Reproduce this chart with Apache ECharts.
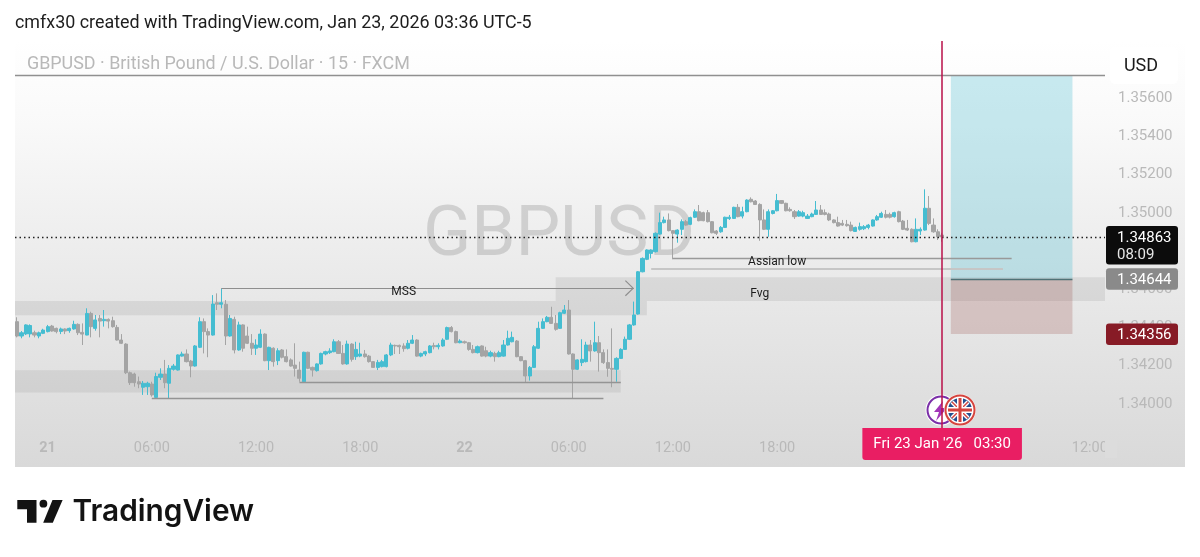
<!DOCTYPE html>
<html>
<head>
<meta charset="utf-8">
<style>html,body{margin:0;padding:0;background:#fff}#c{width:1200px;height:557px}</style>
<script src="https://cdn.jsdelivr.net/npm/echarts@6/dist/echarts.min.js"></script>
</head>
<body>
<div id="c"></div>
<script>
const opens = [
1.34420,1.34345,1.34356,1.34356,1.34362,1.34345,1.34359,1.34368,1.34397,1.34385,
1.34369,1.34382,1.34373,1.34382,1.34406,1.34364,1.34350,1.34463,1.34385,1.34437,
1.34425,1.34432,1.34425,1.34390,1.34324,1.34303,1.34153,1.34146,1.34106,1.34077,
1.34080,1.34094,1.34024,1.34129,1.34146,1.34098,1.34171,1.34167,1.34240,1.34251,
1.34214,1.34188,1.34286,1.34420,1.34368,1.34350,1.34519,1.34511,1.34511,1.34345,
1.34432,1.34272,1.34403,1.34345,1.34307,1.34281,1.34286,1.34355,1.34216,1.34281,
1.34216,1.34272,1.34237,1.34220,1.34193,1.34167,1.34106,1.34260,1.34181,1.34164,
1.34199,1.34251,1.34258,1.34263,1.34315,1.34254,1.34199,1.34303,1.34237,1.34240,
1.34251,1.34240,1.34211,1.34181,1.34185,1.34185,1.34246,1.34296,1.34296,1.34293,
1.34281,1.34307,1.34324,1.34240,1.34251,1.34258,1.34295,1.34289,1.34293,1.34328,
1.34389,1.34368,1.34310,1.34315,1.34310,1.34275,1.34258,1.34293,1.34268,1.34240,
1.34254,1.34237,1.34240,1.34298,1.34315,1.34319,1.34237,1.34216,1.34136,1.34181,
1.34281,1.34385,1.34420,1.34443,1.34411,1.34385,1.34464,1.34481,1.34251,1.34171,
1.34206,1.34211,1.34298,1.34267,1.34310,1.34258,1.34206,1.34176,1.34171,1.34228,
1.34275,1.34328,1.34403,1.34460,1.34681,1.34746,1.34777,1.34786,1.34878,1.34938,
1.34952,1.34896,1.34878,1.34903,1.34943,1.34929,1.34966,1.34995,1.34990,1.34990,
1.34943,1.34894,1.34890,1.34913,1.34959,1.34960,1.35018,1.34972,1.34995,1.35060,
1.35051,1.35033,1.34952,1.34903,1.34986,1.35000,1.35053,1.35039,1.35007,1.34995,
1.34972,1.34972,1.34960,1.34969,1.34981,1.35004,1.34990,1.34983,1.34952,1.34938,
1.34934,1.34929,1.34925,1.34892,1.34903,1.34906,1.34913,1.34920,1.34952,1.34966,
1.34981,1.34981,1.34969,1.34995,1.34946,1.34908,1.34903,1.34838,1.34894,1.34899,
1.35013,1.34925,1.34890,1.34873];
const closes = [
1.34345,1.34362,1.34403,1.34400,1.34350,1.34362,1.34376,1.34394,1.34371,1.34368,
1.34382,1.34371,1.34385,1.34406,1.34362,1.34355,1.34463,1.34394,1.34429,1.34423,
1.34432,1.34423,1.34394,1.34324,1.34307,1.34153,1.34101,1.34101,1.34094,1.34098,
1.34098,1.34037,1.34133,1.34146,1.34101,1.34176,1.34188,1.34246,1.34251,1.34211,
1.34188,1.34293,1.34420,1.34368,1.34350,1.34512,1.34511,1.34519,1.34345,1.34437,
1.34272,1.34403,1.34281,1.34307,1.34281,1.34298,1.34355,1.34216,1.34286,1.34211,
1.34268,1.34234,1.34211,1.34188,1.34176,1.34124,1.34260,1.34176,1.34167,1.34199,
1.34254,1.34263,1.34267,1.34315,1.34254,1.34199,1.34303,1.34223,1.34275,1.34251,
1.34237,1.34211,1.34181,1.34207,1.34211,1.34246,1.34298,1.34293,1.34289,1.34279,
1.34307,1.34324,1.34240,1.34254,1.34263,1.34293,1.34289,1.34296,1.34324,1.34389,
1.34368,1.34310,1.34319,1.34310,1.34275,1.34258,1.34289,1.34240,1.34240,1.34258,
1.34237,1.34258,1.34298,1.34333,1.34338,1.34237,1.34216,1.34136,1.34181,1.34289,
1.34385,1.34420,1.34443,1.34411,1.34380,1.34467,1.34481,1.34251,1.34171,1.34220,
1.34223,1.34298,1.34267,1.34310,1.34258,1.34206,1.34176,1.34171,1.34228,1.34275,
1.34328,1.34403,1.34455,1.34681,1.34751,1.34795,1.34795,1.34882,1.34938,1.34952,
1.34896,1.34882,1.34899,1.34943,1.34925,1.34964,1.34995,1.34948,1.34948,1.34943,
1.34885,1.34882,1.34913,1.34966,1.34966,1.35018,1.34969,1.34995,1.35056,1.35047,
1.35033,1.34952,1.34903,1.34995,1.35000,1.35053,1.35039,1.35000,1.35000,1.34969,
1.34995,1.34990,1.34972,1.34983,1.35004,1.34981,1.34981,1.34952,1.34938,1.34920,
1.34925,1.34922,1.34896,1.34913,1.34917,1.34917,1.34925,1.34952,1.34969,1.34986,
1.34966,1.34966,1.34990,1.34943,1.34903,1.34899,1.34838,1.34903,1.34903,1.35013,
1.34934,1.34890,1.34864,1.34863];
const lows = [
1.34338,1.34333,1.34350,1.34338,1.34338,1.34333,1.34355,1.34364,1.34368,1.34359,
1.34355,1.34355,1.34362,1.34378,1.34350,1.34298,1.34349,1.34338,1.34373,1.34338,
1.34394,1.34385,1.34389,1.34321,1.34303,1.34146,1.34089,1.34080,1.34072,1.34037,
1.34037,1.34028,1.34019,1.34115,1.34072,1.34019,1.34164,1.34164,1.34237,1.34207,
1.34129,1.34185,1.34282,1.34254,1.34234,1.34347,1.34481,1.34490,1.34298,1.34342,
1.34254,1.34268,1.34263,1.34303,1.34246,1.34246,1.34282,1.34213,1.34167,1.34185,
1.34193,1.34228,1.34207,1.34185,1.34133,1.34106,1.34103,1.34172,1.34133,1.34159,
1.34195,1.34244,1.34251,1.34260,1.34251,1.34195,1.34195,1.34211,1.34220,1.34234,
1.34232,1.34206,1.34178,1.34167,1.34181,1.34181,1.34240,1.34251,1.34251,1.34263,
1.34275,1.34303,1.34237,1.34234,1.34240,1.34254,1.34275,1.34275,1.34289,1.34324,
1.34364,1.34307,1.34307,1.34305,1.34268,1.34254,1.34254,1.34237,1.34234,1.34234,
1.34211,1.34234,1.34237,1.34295,1.34312,1.34234,1.34213,1.34101,1.34112,1.34178,
1.34277,1.34382,1.34417,1.34408,1.34373,1.34382,1.34460,1.34248,1.34019,1.34167,
1.34188,1.34207,1.34211,1.34263,1.34159,1.34199,1.34132,1.34077,1.34106,1.34225,
1.34272,1.34324,1.34399,1.34457,1.34678,1.34742,1.34751,1.34782,1.34875,1.34934,
1.34892,1.34746,1.34833,1.34873,1.34922,1.34925,1.34962,1.34945,1.34945,1.34939,
1.34882,1.34873,1.34885,1.34910,1.34952,1.34957,1.34966,1.34960,1.34992,1.35044,
1.35030,1.34843,1.34899,1.34864,1.34981,1.34997,1.35035,1.34997,1.34995,1.34957,
1.34969,1.34966,1.34957,1.34966,1.34978,1.34978,1.34976,1.34946,1.34934,1.34917,
1.34920,1.34917,1.34892,1.34889,1.34896,1.34899,1.34903,1.34917,1.34948,1.34962,
1.34960,1.34960,1.34964,1.34939,1.34899,1.34894,1.34835,1.34835,1.34873,1.34896,
1.34925,1.34885,1.34847,1.34838];
const highs = [
1.34443,1.34371,1.34406,1.34406,1.34373,1.34368,1.34383,1.34403,1.34403,1.34389,
1.34389,1.34385,1.34389,1.34425,1.34411,1.34411,1.34490,1.34472,1.34455,1.34455,
1.34481,1.34437,1.34446,1.34403,1.34355,1.34307,1.34159,1.34153,1.34133,1.34110,
1.34106,1.34106,1.34153,1.34176,1.34220,1.34193,1.34199,1.34249,1.34263,1.34275,
1.34220,1.34298,1.34443,1.34437,1.34385,1.34559,1.34568,1.34594,1.34533,1.34455,
1.34446,1.34420,1.34406,1.34394,1.34355,1.34328,1.34380,1.34359,1.34289,1.34286,
1.34281,1.34277,1.34275,1.34228,1.34307,1.34211,1.34263,1.34263,1.34185,1.34202,
1.34258,1.34268,1.34281,1.34328,1.34324,1.34298,1.34321,1.34307,1.34315,1.34310,
1.34272,1.34246,1.34214,1.34220,1.34220,1.34251,1.34310,1.34300,1.34300,1.34307,
1.34324,1.34350,1.34328,1.34258,1.34268,1.34298,1.34310,1.34307,1.34333,1.34394,
1.34397,1.34373,1.34328,1.34321,1.34314,1.34298,1.34295,1.34296,1.34289,1.34268,
1.34263,1.34268,1.34324,1.34373,1.34368,1.34324,1.34240,1.34220,1.34188,1.34298,
1.34420,1.34437,1.34450,1.34498,1.34455,1.34472,1.34507,1.34533,1.34254,1.34223,
1.34328,1.34315,1.34324,1.34420,1.34345,1.34275,1.34275,1.34385,1.34234,1.34281,
1.34342,1.34408,1.34525,1.34685,1.34756,1.34798,1.34798,1.34887,1.34990,1.34969,
1.34986,1.34899,1.34903,1.34955,1.34952,1.34969,1.35007,1.35030,1.34995,1.35004,
1.34946,1.34899,1.34920,1.34969,1.34978,1.35021,1.35035,1.35021,1.35060,1.35070,
1.35056,1.35039,1.35007,1.35007,1.35004,1.35088,1.35056,1.35042,1.35018,1.35004,
1.35004,1.35000,1.34983,1.34990,1.35051,1.35030,1.35007,1.34990,1.34955,1.34969,
1.34952,1.34952,1.34943,1.34917,1.34938,1.34925,1.34931,1.34955,1.34978,1.34995,
1.35004,1.34990,1.34995,1.35000,1.34952,1.34952,1.34908,1.34960,1.34913,1.35112,
1.35077,1.34960,1.34903,1.34885];

const priceTicks = [1.34,1.342,1.344,1.346,1.348,1.35,1.352,1.354,1.356];
const lastPrice = 1.34863;
const entryPrice = 1.34644;
const stopPrice = 1.34356;
const targetPrice = 1.35706;
const mssPrice = 1.34595;
const asianLow = 1.3475;
const asianLow2 = 1.34699;
const sweepLow1 = 1.34022;
const sweepLow2 = 1.34103;
const zoneA = [1.34453, 1.34528];
const zoneB = [1.34528, 1.34652];
const zoneC = [1.34049, 1.34166];
const countdown = '08:09';
const dateLabel = "Fri 23 Jan '26   03:30";

/* 15-minute bars, first bar at 22:15 on the 20th */
const categories = [];
for (let i = 0; i < 251; i++) {
  const m = 22 * 60 + 15 + i * 15;
  const day = 20 + Math.floor(m / 1440);
  const hm = m % 1440;
  categories.push(day + ' ' + String(Math.floor(hm / 60)).padStart(2, '0') + ':' + String(hm % 60).padStart(2, '0'));
}
const candles = opens.map((o, i) => [o, closes[i], lows[i], highs[i]]);
const UP = '#45bdd1', DOWN = '#a4a4a4';
const AXIS_TEXT = '#b9b9b9', FONT = 'Roboto';
const lastBar = opens.length - 1;

const chart = echarts.init(document.getElementById('c'), null, { renderer: 'canvas' });
const noLabel = { show: false };
const line = (i0, i1, v, color, width) => [
  { coord: [i0, v], lineStyle: { color, width, type: 'solid' }, label: noLabel },
  { coord: [i1, v] }
];
const paneLine = (v, color, width, type) => [
  { yAxis: v, x: 15, lineStyle: { color, width, type }, label: noLabel },
  { yAxis: v, x: 1105 }
];
const area = (i0, i1, v0, v1, color) => [
  { xAxis: i0, yAxis: v1, itemStyle: { color } },
  { xAxis: i1, yAxis: v0 }
];
const note = (t, i, v) => ({
  coord: [i, v], symbol: 'circle', symbolSize: 0,
  label: { show: true, position: 'inside', formatter: t, color: '#1c1c1c', fontFamily: FONT, fontSize: 12 }
});
chart.setOption({
  animation: false,
  backgroundColor: 'transparent',
  grid: { left: 15, right: 95, top: 41, bottom: 129 },
  xAxis: {
    type: 'category', data: categories, boundaryGap: true,
    axisLine: { show: false }, axisTick: { show: false }, splitLine: { show: false },
    axisLabel: {
      color: AXIS_TEXT, fontFamily: FONT, fontSize: 14.5, margin: 13, hideOverlap: false,
      interval: idx => (idx - 7) % 24 === 0,
      formatter: v => v.endsWith('00:00') ? '{d|' + v.split(' ')[0] + '}' : v.split(' ')[1],
      rich: { d: { color: AXIS_TEXT, fontFamily: FONT, fontSize: 14.5, fontWeight: 700 } }
    },
    axisPointer: {
      show: true, status: 'show', value: lastBar, snap: false, type: 'line', triggerTooltip: false,
      lineStyle: { color: '#b80f48', width: 1.5, type: 'solid' },
      label: {
        show: true, formatter: dateLabel, backgroundColor: '#e91e63', color: '#fff', margin: 0,
        fontFamily: FONT, fontSize: 15, padding: [9, 11, 8, 11], borderRadius: [0, 0, 3, 3], shadowBlur: 0
      }
    }
  },
  yAxis: {
    type: 'value', position: 'right', min: 1.33864, max: 1.358877, scale: true,
    axisLine: { show: false }, axisTick: { show: false }, splitLine: { show: false },
    axisLabel: {
      color: AXIS_TEXT, fontFamily: FONT, fontSize: 15, margin: 13, verticalAlign: 'top', lineHeight: 4,
      customValues: priceTicks, formatter: v => v.toFixed(5)
    }
  },
  series: [{
    type: 'candlestick', data: candles, barWidth: 3.6,
    itemStyle: { color: UP, color0: DOWN, borderColor: UP, borderColor0: DOWN, borderWidth: 1 },
    markArea: {
      silent: true, label: noLabel,
      data: [
        area(-Infinity, 145, zoneA[0], zoneA[1], 'rgba(110,110,110,0.14)'),
        area(124, Infinity, zoneB[0], zoneB[1], 'rgba(110,110,110,0.14)'),
        area(-Infinity, 139, zoneC[0], zoneC[1], 'rgba(110,110,110,0.12)'),
        area(215, 243, entryPrice, targetPrice, 'rgba(75,190,210,0.30)'),
        area(215, 243, stopPrice, entryPrice, 'rgba(140,50,45,0.20)')
      ]
    },
    markLine: {
      silent: true, symbol: 'none', animation: false,
      data: [
        paneLine(targetPrice, '#909090', 1.3, 'solid'),
        paneLine(lastPrice, '#222', 1.4, [1.5, 3]),
        line(47, 142, mssPrice, '#8e8e8e', 1.2),
        line(31, 135, sweepLow1, '#949494', 1.3),
        line(65, 139, sweepLow2, '#949494', 1.3),
        line(151, 229, asianLow, '#999', 1.4),
        line(146, 227, asianLow2, '#c6c6c6', 2),
        line(215, 243, entryPrice, '#4f7276', 1.4)
      ]
    },
    markPoint: {
      silent: true, animation: false,
      data: [
        note('MSS', 89, 1.34576),
        note('Assian low', 175, 1.34733),
        note('Fvg', 171, 1.34565),
        { coord: [141, mssPrice], symbol: 'path://M1,0 L11,9 L1,18 L0,17 L9,9 L0,1 Z', symbolSize: [9, 16], symbolKeepAspect: false,
          itemStyle: { color: '#8e8e8e' }, label: noLabel }
      ]
    }
  }]
});

function buildOverlay() {
  const yOf = v => chart.convertToPixel({ yAxisIndex: 0 }, v);
  const el = [];
  const text = (t, x, y, font, fill, z, align) => el.push({
    type: 'text', z: z, silent: true,
    style: { text: t, x, y, font, fill, align: align || 'left', verticalAlign: 'middle' }
  });
  const rect = (x, y, w, h, fill, z, r) => el.push({
    type: 'rect', z: z, silent: true, shape: { x, y, width: w, height: h, r: r || 0 }, style: { fill }
  });
  /* panel background */
  el.push({
    type: 'rect', z: -10, silent: true, shape: { x: 15, y: 41, width: 1170, height: 426 },
    style: { fill: { type: 'linear', x: 0, y: 0, x2: 0, y2: 1, colorStops: [
      { offset: 0, color: '#ffffff' }, { offset: 0.2, color: '#f9f9f9' }, { offset: 0.6, color: '#e8e8e8' }, { offset: 1, color: '#d9d9d9' }
    ] } }
  });
  /* header and titles */
  text('cmfx30 created with TradingView.com, Jan 23, 2026 03:36 UTC-5', 15, 23.5, '17.9px Roboto', '#1d1d1d', 5);
  text('GBPUSD · British Pound / U.S. Dollar · 15 · FXCM', 27, 65, '17.9px Roboto', '#b8b8b8', 5);
  text('GBPUSD', 559, 237, '71px Roboto', 'rgba(150,150,150,0.36)', -5, 'center');
  /* currency button */
  rect(1110, 47, 68, 37, '#ffffff', 20, 5);
  text('USD', 1141, 66, '18px Roboto', '#1a1a1a', 21, 'center');
  /* price tags */
  const pl = yOf(lastPrice), pe = yOf(entryPrice), ps = yOf(stopPrice);
  rect(1106, pl - 11, 72, 38.5, '#0c0c0c', 30, 3);
  text(lastPrice.toFixed(5), 1117, pl + 1, '15px Roboto', '#ffffff', 31);
  text(countdown, 1117, pl + 18.5, '15px Roboto', '#e6e6e6', 31);
  rect(1106, pe - 10.5, 72, 21.5, '#8a8a8a', 30, 3);
  text(entryPrice.toFixed(5), 1117, pe + 1.5, '15px Roboto', '#ffffff', 31);
  rect(1106, ps - 10.5, 72, 21.5, '#871b26', 30, 3);
  text(stopPrice.toFixed(5), 1117, ps + 1.5, '15px Roboto', '#ffffff', 31);
  /* clips the last time label where the pane ends */
  rect(1105, 440, 12, 18, '#dcdcdc', 30);
  /* event icons */
  el.push({ type: 'circle', z: 40, silent: true, shape: { cx: 941, cy: 410, r: 15.5 }, style: { fill: '#fff' } });
  el.push({ type: 'circle', z: 41, silent: true, shape: { cx: 941, cy: 410, r: 13.5 }, style: { fill: '#fff', stroke: '#7b2fa8', lineWidth: 2 } });
  el.push({ type: 'polygon', z: 42, silent: true, shape: { points: [[943, 401], [934, 412], [939, 412], [936, 421], [947, 408], [941, 408]] }, style: { fill: '#a235b8' } });
  el.push({ type: 'circle', z: 43, silent: true, shape: { cx: 960, cy: 410, r: 16 }, style: { fill: '#fdf0ef' } });
  el.push({ type: 'circle', z: 44, silent: true, shape: { cx: 960, cy: 410, r: 14.5 }, style: { fill: '#fff', stroke: '#d5453f', lineWidth: 2 } });
  el.push({ type: 'circle', z: 45, silent: true, shape: { cx: 960, cy: 410, r: 12 }, style: { fill: '#24508f' } });
  const seg = (x1, y1, x2, y2, stroke, w, z) => el.push({ type: 'line', z, silent: true, shape: { x1, y1, x2, y2 }, style: { stroke, lineWidth: w } });
  seg(952, 402, 968, 418, '#fff', 4, 46); seg(952, 418, 968, 402, '#fff', 4, 46);
  seg(952, 402, 968, 418, '#d5453f', 1.4, 47); seg(952, 418, 968, 402, '#d5453f', 1.4, 47);
  seg(948, 410, 972, 410, '#fff', 6, 48); seg(960, 398, 960, 422, '#fff', 6, 48);
  seg(948, 410, 972, 410, '#d5453f', 3, 49); seg(960, 398, 960, 422, '#d5453f', 3, 49);
  /* brand */
  el.push({ type: 'polygon', z: 5, silent: true, shape: { points: [[17.3, 500], [36.5, 500], [36.5, 522.7], [27, 522.7], [27, 509.3], [17.3, 509.3]] }, style: { fill: '#131313' } });
  el.push({ type: 'circle', z: 5, silent: true, shape: { cx: 43.4, cy: 503.7, r: 3.9 }, style: { fill: '#131313' } });
  el.push({ type: 'polygon', z: 5, silent: true, shape: { points: [[52.5, 500], [62.6, 500], [52.8, 522.7], [43.2, 522.7]] }, style: { fill: '#131313' } });
  text('TradingView', 72.5, 512, '600 29.8px Inter', '#131313', 5);
  chart.setOption({ graphic: { elements: el } });
}
buildOverlay();
</script>
</body>
</html>
